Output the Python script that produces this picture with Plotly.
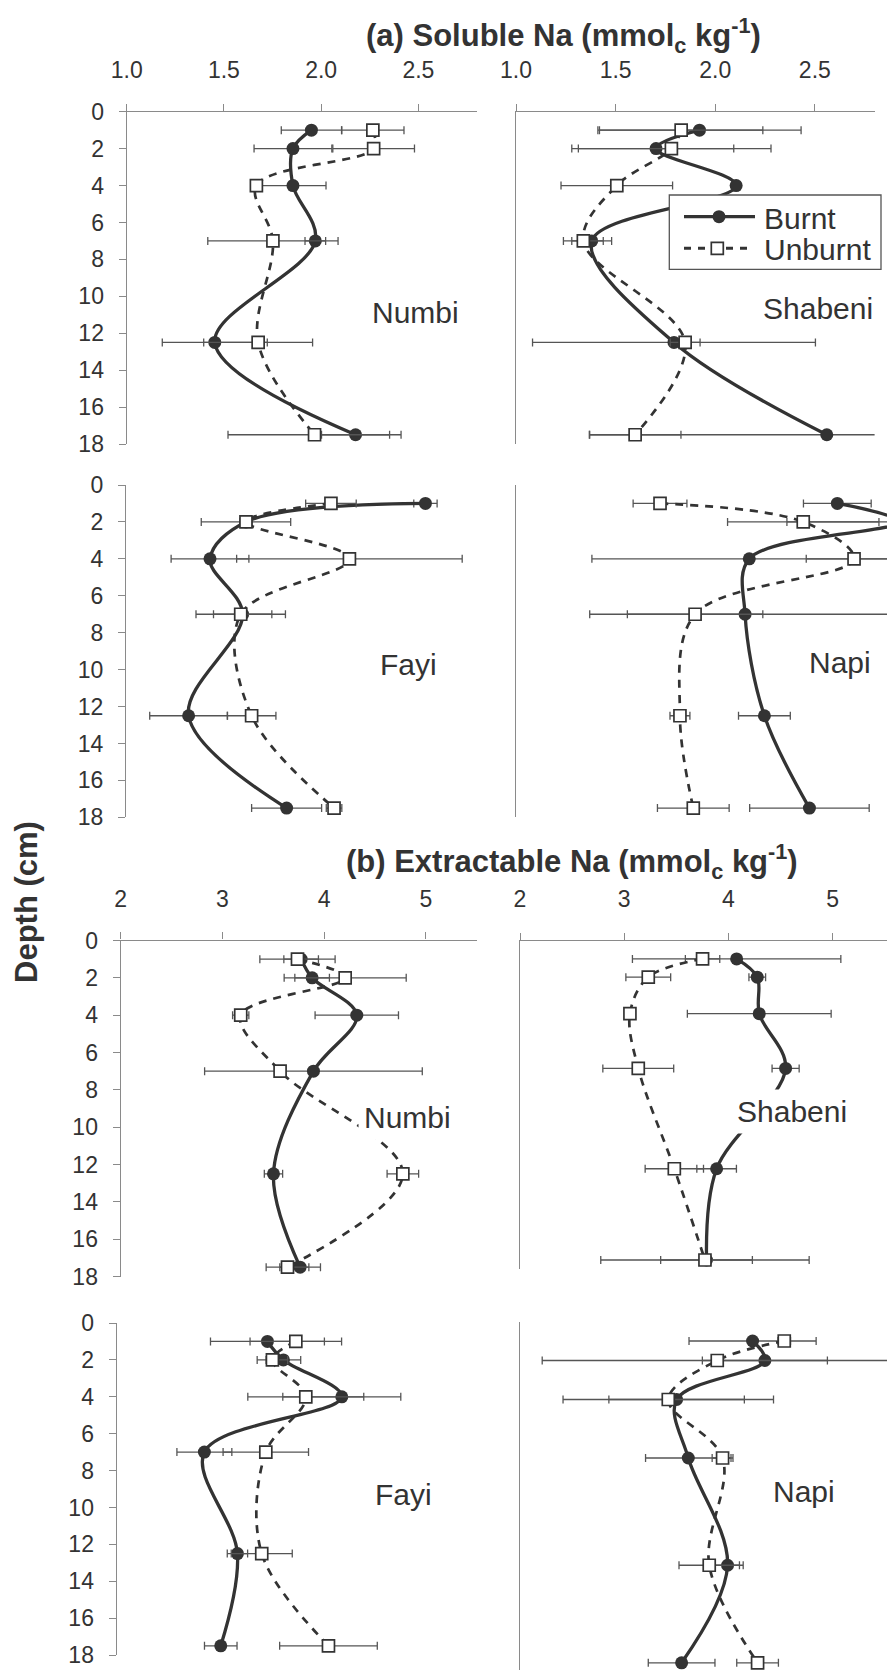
import plotly.graph_objects as go

W, H = 887, 1670

# ---------------- data ----------------
depth = [1, 2, 4, 7, 12.5, 17.5]
sites = ["Numbi", "Shabeni", "Fayi", "Napi"]

# (a) Soluble Na (mmolc/kg)
sol_numbi_burnt = [1.95, 1.855, 1.855, 1.97, 1.453, 2.177]
sol_numbi_burnt_err = [0.155, 0.2, 0.17, 0.053, 0.27, 0.175]
sol_numbi_unburnt = [2.266, 2.27, 1.667, 1.752, 1.676, 1.966]
sol_numbi_unburnt_err = [0.16, 0.21, 0.02, 0.335, 0.28, 0.445]

sol_shabeni_burnt = [1.921, 1.703, 2.105, 1.38, 1.793, 2.56]
sol_shabeni_burnt_err = [0.51, 0.39, 0.02, 0.1, 0.71, 1.19]
sol_shabeni_unburnt = [1.829, 1.78, 1.506, 1.338, 1.849, 1.598]
sol_shabeni_unburnt_err = [0.41, 0.5, 0.28, 0.1, 0.075, 0.23]

sol_fayi_burnt = [2.54, 1.617, 1.432, 1.6, 1.322, 1.826]
sol_fayi_burnt_err = [0.06, 0.23, 0.2, 0.15, 0.2, 0.18]
sol_fayi_unburnt = [2.054, 1.617, 2.149, 1.59, 1.646, 2.07]
sol_fayi_unburnt_err = [0.13, 0.03, 0.58, 0.23, 0.125, 0.04]

sol_napi_burnt = [2.613, 2.92, 2.171, 2.15, 2.247, 2.473]
sol_napi_burnt_err = [0.17, 0.56, 0.79, 0.78, 0.13, 0.3]
sol_napi_unburnt = [1.723, 2.442, 2.697, 1.899, 1.823, 1.89]
sol_napi_unburnt_err = [0.135, 0.38, 0.24, 0.34, 0.05, 0.18]

# (b) Extractable Na (mmolc/kg)
ext_numbi_burnt = [3.774, 3.882, 4.321, 3.895, 3.502, 3.764]
ext_numbi_burnt_err = [0.17, 0.17, 0.41, 1.07, 0.09, 0.2]
ext_numbi_unburnt = [3.738, 4.207, 3.18, 3.567, 4.774, 3.64]
ext_numbi_unburnt_err = [0.37, 0.6, 0.08, 0.05, 0.155, 0.21]

ext_shabeni_burnt = [4.079, 4.277, 4.296, 4.549, 3.887, 3.79]
ext_shabeni_burnt_err = [1.0, 0.08, 0.69, 0.13, 0.19, 0.44]
ext_shabeni_unburnt = [3.752, 3.231, 3.055, 3.135, 3.481, 3.775]
ext_shabeni_unburnt_err = [0.165, 0.215, 0.03, 0.34, 0.28, 1.0]

ext_fayi_burnt = [3.482, 3.639, 4.213, 2.862, 3.187, 3.023]
ext_fayi_burnt_err = [0.56, 0.17, 0.58, 0.27, 0.1, 0.16]
ext_fayi_unburnt = [3.761, 3.531, 3.859, 3.466, 3.426, 4.082]
ext_fayi_unburnt_err = [0.45, 0.15, 0.57, 0.42, 0.3, 0.48]

ext_napi_burnt = [4.232, 4.35, 3.503, 3.615, 3.992, 3.551]
ext_napi_burnt_err = [0.61, 0.6, 0.65, 0.41, 0.15, 0.32]
ext_napi_unburnt = [4.536, 3.893, 3.423, 3.944, 3.816, 4.28]
ext_napi_unburnt_err = [0.06, 1.68, 1.01, 0.1, 0.29, 0.2]

sol_ticks = [1.0, 1.5, 2.0, 2.5]
sol_ticktext = ["1.0", "1.5", "2.0", "2.5"]
ext_ticks = [2, 3, 4, 5]
ext_ticktext = ["2", "3", "4", "5"]
depth_ticks = [0, 2, 4, 6, 8, 10, 12, 14, 16, 18]

# ---------------- styling ----------------
FONT = "Liberation Sans, Arial, sans-serif"
TXT = "#333333"
AX = "#8a8a8a"
LINE = "#333333"
ERR = "#555555"
TICK_SIZE = 23


def fx(px):
    return px / W


def fy(py):
    return 1 - py / H


panels = [
    (sol_numbi_burnt, sol_numbi_burnt_err, sol_numbi_unburnt, sol_numbi_unburnt_err,
     (126.7, 476.7), (111.7, 444.0), [1.0, 2.8], [18, 0], True, True, "sol"),
    (sol_shabeni_burnt, sol_shabeni_burnt_err, sol_shabeni_unburnt, sol_shabeni_unburnt_err,
     (516.0, 874.6), (111.7, 444.0), [1.0, 2.8], [18, 0], True, False, "sol"),
    (sol_fayi_burnt, sol_fayi_burnt_err, sol_fayi_unburnt, sol_fayi_unburnt_err,
     (126.0, 476.0), (485.0, 817.3), [1.0, 2.8], [18, 0], False, True, "sol"),
    (sol_napi_burnt, sol_napi_burnt_err, sol_napi_unburnt, sol_napi_unburnt_err,
     (516.0, 887.0), (485.0, 817.3), [1.0, 2.8624], [18, 0], False, False, "sol"),
    (ext_numbi_burnt, ext_numbi_burnt_err, ext_numbi_unburnt, ext_numbi_unburnt_err,
     (120.7, 476.7), (940.5, 1276.5), [2, 5.5], [18, 0], True, True, "ext"),
    (ext_shabeni_burnt, ext_shabeni_burnt_err, ext_shabeni_unburnt, ext_shabeni_unburnt_err,
     (520.0, 887.0), (940.7, 1269.1), [2, 5.522], [18, 0], True, False, "ext"),
    (ext_fayi_burnt, ext_fayi_burnt_err, ext_fayi_unburnt, ext_fayi_unburnt_err,
     (116.7, 472.7), (1323.0, 1655.0), [2, 5.5], [18, 0], False, True, "ext"),
    (ext_napi_burnt, ext_napi_burnt_err, ext_napi_unburnt, ext_napi_unburnt_err,
     (520.0, 887.0), (1321.5, 1670.0), [2, 5.522], [17.87, 0], False, False, "ext"),
]

fig = go.Figure()
layout = dict(
    width=W, height=H,
    margin=dict(l=0, r=0, t=0, b=0, autoexpand=False),
    paper_bgcolor="white", plot_bgcolor="white",
    showlegend=False,
    font=dict(family=FONT, color=TXT),
)

for i, (b, be, u, ue, xd, yd, xr, yr, top, left, kind) in enumerate(panels, start=1):
    xa = "x" if i == 1 else f"x{i}"
    ya = "y" if i == 1 else f"y{i}"
    clip = not (i == 2)
    fig.add_trace(go.Scatter(
        x=b, y=depth, xaxis=xa, yaxis=ya, mode="lines+markers", name="Burnt",
        line=dict(color=LINE, width=3.3, shape="spline", smoothing=1.0),
        marker=dict(symbol="circle", size=13, color=LINE),
        error_x=dict(type="data", array=be, color=ERR, thickness=1.3, width=4),
        cliponaxis=clip,
    ))
    fig.add_trace(go.Scatter(
        x=u, y=depth, xaxis=xa, yaxis=ya, mode="lines+markers", name="Unburnt",
        line=dict(color=LINE, width=2.7, dash="8px,7px", shape="spline", smoothing=1.0),
        marker=dict(symbol="square", size=12, color="white", line=dict(color=LINE, width=1.7)),
        error_x=dict(type="data", array=ue, color=ERR, thickness=1.3, width=4),
        cliponaxis=clip,
    ))
    xkey = "xaxis" if i == 1 else f"xaxis{i}"
    ykey = "yaxis" if i == 1 else f"yaxis{i}"
    tv = sol_ticks if kind == "sol" else ext_ticks
    tt = sol_ticktext if kind == "sol" else ext_ticktext
    if top:
        layout[xkey] = dict(
            domain=[fx(xd[0]), fx(xd[1])], range=xr, anchor=ya, side="top",
            showline=True, linecolor=AX, linewidth=1.3,
            ticks="outside", ticklen=7, tickwidth=1.3, tickcolor=AX,
            tickvals=tv, ticktext=tt, tickfont=dict(size=TICK_SIZE, color=TXT, family=FONT),
            ticklabelstandoff=16, automargin=False, ticklabeloverflow="allow",
            showgrid=False, zeroline=False, fixedrange=True,
        )
    else:
        layout[xkey] = dict(
            domain=[fx(xd[0]), fx(xd[1])], range=xr, anchor=ya,
            visible=False, showgrid=False, zeroline=False, fixedrange=True,
        )
    if left:
        layout[ykey] = dict(
            domain=[fy(yd[1]), fy(yd[0])], range=yr, anchor=xa,
            showline=True, linecolor=AX, linewidth=1.3,
            ticks="outside", ticklen=7, tickwidth=1.3, tickcolor=AX,
            tickvals=depth_ticks, tickfont=dict(size=TICK_SIZE, color=TXT, family=FONT),
            ticklabelstandoff=10, automargin=False, ticklabeloverflow="allow",
            showgrid=False, zeroline=False, fixedrange=True,
        )
    else:
        layout[ykey] = dict(
            domain=[fy(yd[1]), fy(yd[0])], range=yr, anchor=xa,
            showline=True, linecolor=AX, linewidth=1.3,
            ticks="", showticklabels=False,
            showgrid=False, zeroline=False, fixedrange=True,
        )

# ---------------- annotations ----------------
annotations = []
label_pos = [  # (text, center x px, center y px)
    ("Numbi", 415.8, 313), ("Shabeni", 818.3, 308),
    ("Fayi", 408.8, 664), ("Napi", 840.3, 662),
    ("Numbi", 407.5, 1117), ("Shabeni", 792.2, 1111),
    ("Fayi", 403.8, 1494), ("Napi", 803.8, 1491),
]
for text, cx, cy in label_pos:
    annotations.append(dict(
        text=text, x=fx(cx), y=fy(cy), xref="paper", yref="paper",
        xanchor="center", yanchor="middle", showarrow=False,
        font=dict(size=30, color=TXT, family=FONT),
        bgcolor="white", borderpad=5,
    ))

annotations.append(dict(
    text="<b>(a) Soluble Na (mmol<sub>c</sub> kg<sup>-1</sup>)</b>",
    x=fx(563), y=fy(35), xref="paper", yref="paper", xanchor="center", yanchor="middle",
    showarrow=False, font=dict(size=31, color=TXT, family=FONT),
))
annotations.append(dict(
    text="<b>(b) Extractable Na (mmol<sub>c</sub> kg<sup>-1</sup>)</b>",
    x=fx(572), y=fy(861), xref="paper", yref="paper", xanchor="center", yanchor="middle",
    showarrow=False, font=dict(size=31, color=TXT, family=FONT),
))
annotations.append(dict(
    text="<b>Depth (cm)</b>", textangle=-90,
    x=fx(27), y=fy(902), xref="paper", yref="paper", xanchor="center", yanchor="middle",
    showarrow=False, font=dict(size=31, color=TXT, family=FONT),
))

# legend (drawn in Shabeni soluble panel)
annotations.append(dict(
    text="Burnt", x=fx(762), y=fy(218), xref="paper", yref="paper",
    xanchor="left", yanchor="middle", showarrow=False,
    font=dict(size=30, color=TXT, family=FONT),
))
annotations.append(dict(
    text="Unburnt", x=fx(762), y=fy(249.5), xref="paper", yref="paper",
    xanchor="left", yanchor="middle", showarrow=False,
    font=dict(size=30, color=TXT, family=FONT),
))

shapes = [
    dict(type="rect", xref="paper", yref="paper", layer="above",
         x0=fx(669.3), x1=fx(881), y0=fy(269.3), y1=fy(195),
         fillcolor="white", line=dict(color="#555555", width=1.3)),
    dict(type="line", xref="paper", yref="paper", layer="above",
         x0=fx(684), x1=fx(755), y0=fy(216.7), y1=fy(216.7),
         line=dict(color=LINE, width=3.3)),
    dict(type="circle", xref="paper", yref="paper", layer="above",
         x0=fx(712.5), x1=fx(725.5), y0=fy(223.2), y1=fy(210.2),
         fillcolor=LINE, line=dict(color=LINE, width=0)),
    dict(type="line", xref="paper", yref="paper", layer="above",
         x0=fx(684), x1=fx(752), y0=fy(248.3), y1=fy(248.3),
         line=dict(color=LINE, width=3, dash="7px,7px")),
    dict(type="rect", xref="paper", yref="paper", layer="above",
         x0=fx(711.3), x1=fx(723.3), y0=fy(254.3), y1=fy(242.3),
         fillcolor="white", line=dict(color=LINE, width=1.7)),
]

layout["annotations"] = annotations
layout["shapes"] = shapes
fig.update_layout(**layout)

fig.write_html(
    "out.html",
    config={"displayModeBar": False},
    post_script="document.body.style.margin='0';document.body.style.overflow='hidden';",
)
